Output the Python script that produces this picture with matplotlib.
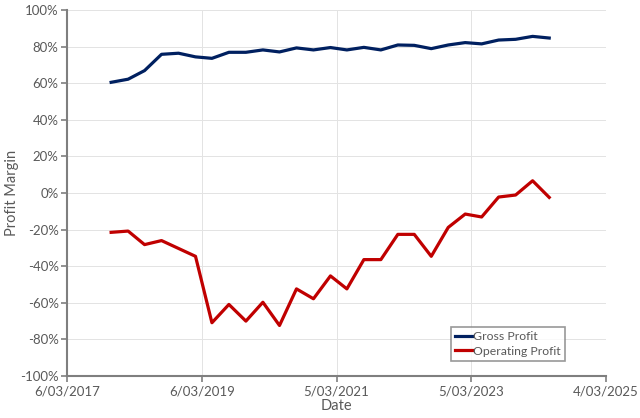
import datetime as dt

import matplotlib
matplotlib.use("Agg")
import matplotlib.dates as mdates
from matplotlib import pyplot as plt
from matplotlib.ticker import FuncFormatter

# quarterly dates (fiscal quarter ends)
quarter_ends = [
    "2017-10-31", "2018-01-31", "2018-04-30", "2018-07-31", "2018-10-31",
    "2019-01-31", "2019-04-30", "2019-07-31", "2019-10-31", "2020-01-31",
    "2020-04-30", "2020-07-31", "2020-10-31", "2021-01-31", "2021-04-30",
    "2021-07-31", "2021-10-31", "2022-01-31", "2022-04-30", "2022-07-31",
    "2022-10-31", "2023-01-31", "2023-04-30", "2023-07-31", "2023-10-31",
    "2024-01-31", "2024-04-30",
]

# margins in percent
gross_profit = [
    60.5, 62.2, 66.9, 75.8, 76.4, 74.4, 73.6, 76.9, 76.9, 78.2,
    77.1, 79.3, 78.2, 79.5, 78.2, 79.6, 78.2, 80.9, 80.7, 78.9,
    80.9, 82.2, 81.5, 83.6, 84.0, 85.6, 84.7,
]
operating_profit = [
    -21.5, -20.8, -28.2, -26.0, -30.3, -34.6, -70.9, -60.9, -70.0, -59.7,
    -72.4, -52.4, -57.8, -45.3, -52.4, -36.4, -36.4, -22.6, -22.6, -34.6,
    -18.8, -11.5, -13.1, -2.2, -1.1, 6.7, -2.4,
]

x_start = dt.date(2017, 3, 6)
x_end = dt.date(2025, 3, 4)

dates = [dt.date.fromisoformat(d) for d in quarter_ends]

plt.rcParams["font.family"] = ["Lato", "DejaVu Sans"]

TEXT_GRAY = "#595959"
GRID_GRAY = "#E3E3E3"

fig = plt.figure(figsize=(6.4, 4.18), dpi=100)
ax = fig.add_axes([0.1047, 0.1005, 0.8423, 0.8755])

ax.plot(dates, gross_profit, color="#002060", lw=2.3, label="Gross Profit",
        solid_joinstyle="round")
ax.plot(dates, operating_profit, color="#C00000", lw=2.3, label="Operating Profit",
        solid_joinstyle="round")

ax.set_xlim(x_start, x_end)
ax.set_ylim(-100, 100)

xticks = [x_start + dt.timedelta(days=730 * i) for i in range(5)]
ax.set_xticks(xticks)
ax.xaxis.set_major_formatter(
    FuncFormatter(lambda v, _: "{d.day}/{d:%m}/{d:%Y}".format(d=mdates.num2date(v)))
)
ax.set_yticks(range(-100, 101, 20))
ax.yaxis.set_major_formatter(FuncFormatter(lambda v, _: f"{v:.0f}%"))

ax.grid(True, color=GRID_GRAY, lw=0.7)
ax.set_axisbelow(True)

for side in ["top", "right"]:
    ax.spines[side].set_visible(False)
for side in ["left", "bottom"]:
    ax.spines[side].set_color("#7F7F7F")
    ax.spines[side].set_linewidth(1.5)

ax.tick_params(axis="both", direction="out", length=4, width=1.2,
               color="#7F7F7F", labelcolor=TEXT_GRAY, labelsize=9.5)
ax.tick_params(axis="x", pad=3)
ax.tick_params(axis="y", pad=2)

ax.set_xlabel("Date", color=TEXT_GRAY, fontsize=10.5, labelpad=1)
ax.set_ylabel("Profit Margin", color=TEXT_GRAY, fontsize=10.5, labelpad=1)

leg = ax.legend(loc="lower left", bbox_to_anchor=(0.712, 0.041), fontsize=8.8,
                frameon=True, fancybox=False, handlelength=1.4, handletextpad=0.1,
                borderpad=0.35, labelspacing=0.3, borderaxespad=0)
leg.get_frame().set_edgecolor("#7F7F7F")
leg.get_frame().set_linewidth(1.2)
for t in leg.get_texts():
    t.set_color(TEXT_GRAY)

fig.savefig("out.png", dpi=100)
